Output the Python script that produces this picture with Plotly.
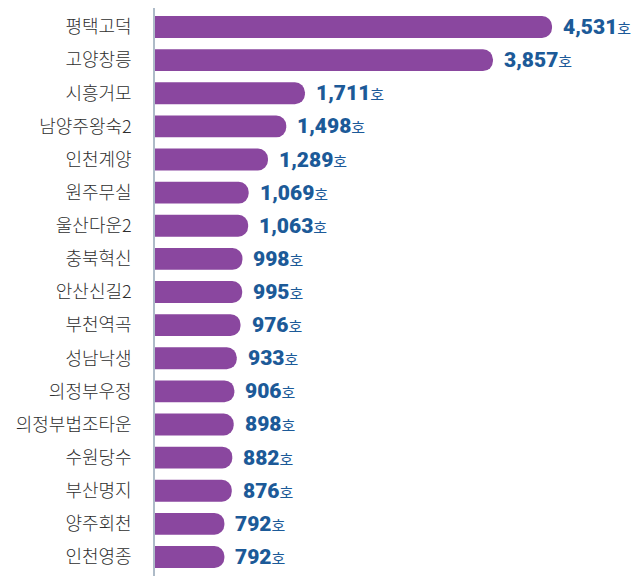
import plotly.graph_objects as go

# 단지별 호수
names = ["평택고덕", "고양창릉", "시흥거모", "남양주왕숙2", "인천계양", "원주무실",
         "울산다운2", "충북혁신", "안산신길2", "부천역곡", "성남낙생", "의정부우정",
         "의정부법조타운", "수원당수", "부산명지", "양주회천", "인천영종"]
units = [4531, 3857, 1711, 1498, 1289, 1069, 1063, 998, 995, 976, 933, 906,
         898, 882, 876, 792, 792]

BAR_COLOR = "#8a479f"
NUM_COLOR = "#1c5a98"

fig = go.Figure(go.Bar(
    x=units,
    y=names,
    orientation="h",
    marker=dict(color=BAR_COLOR, line=dict(width=0)),
    hoverinfo="skip",
))

# 값 라벨 (숫자 + 호)
for n, v in zip(names, units):
    fig.add_annotation(
        x=v, y=n,
        text=f"{v:,}<span style='font-family:Noto Sans CJK KR;font-size:15px;font-weight:400'>호</span>",
        xanchor="left", yanchor="middle", xshift=9, yshift=0,
        showarrow=False,
        font=dict(family="Roboto", size=21, color=NUM_COLOR, weight=900),
    )

# 페이지 기본 여백(8px)을 감안한 크기
fig.update_layout(
    width=632, height=568,
    margin=dict(l=147, r=0, t=0, b=0, autoexpand=False),
    paper_bgcolor="white",
    plot_bgcolor="white",
    bargap=0.34,
    barcornerradius="50%",
    showlegend=False,
    xaxis=dict(range=[0, 5535], visible=False, fixedrange=True, automargin=False),
    yaxis=dict(
        categoryorder="array",
        categoryarray=names,
        range=[16.574, -0.574],
        automargin=False,
        showline=True, linecolor="#aebbc8", linewidth=1.5,
        ticks="outside", ticklen=18, tickcolor="rgba(0,0,0,0)",
        showgrid=False,
        tickfont=dict(family="'Noto Sans CJK KR'", size=18, color="#2e2e2e", weight=300),
        fixedrange=True,
    ),
)

fig.write_html("out.html")
